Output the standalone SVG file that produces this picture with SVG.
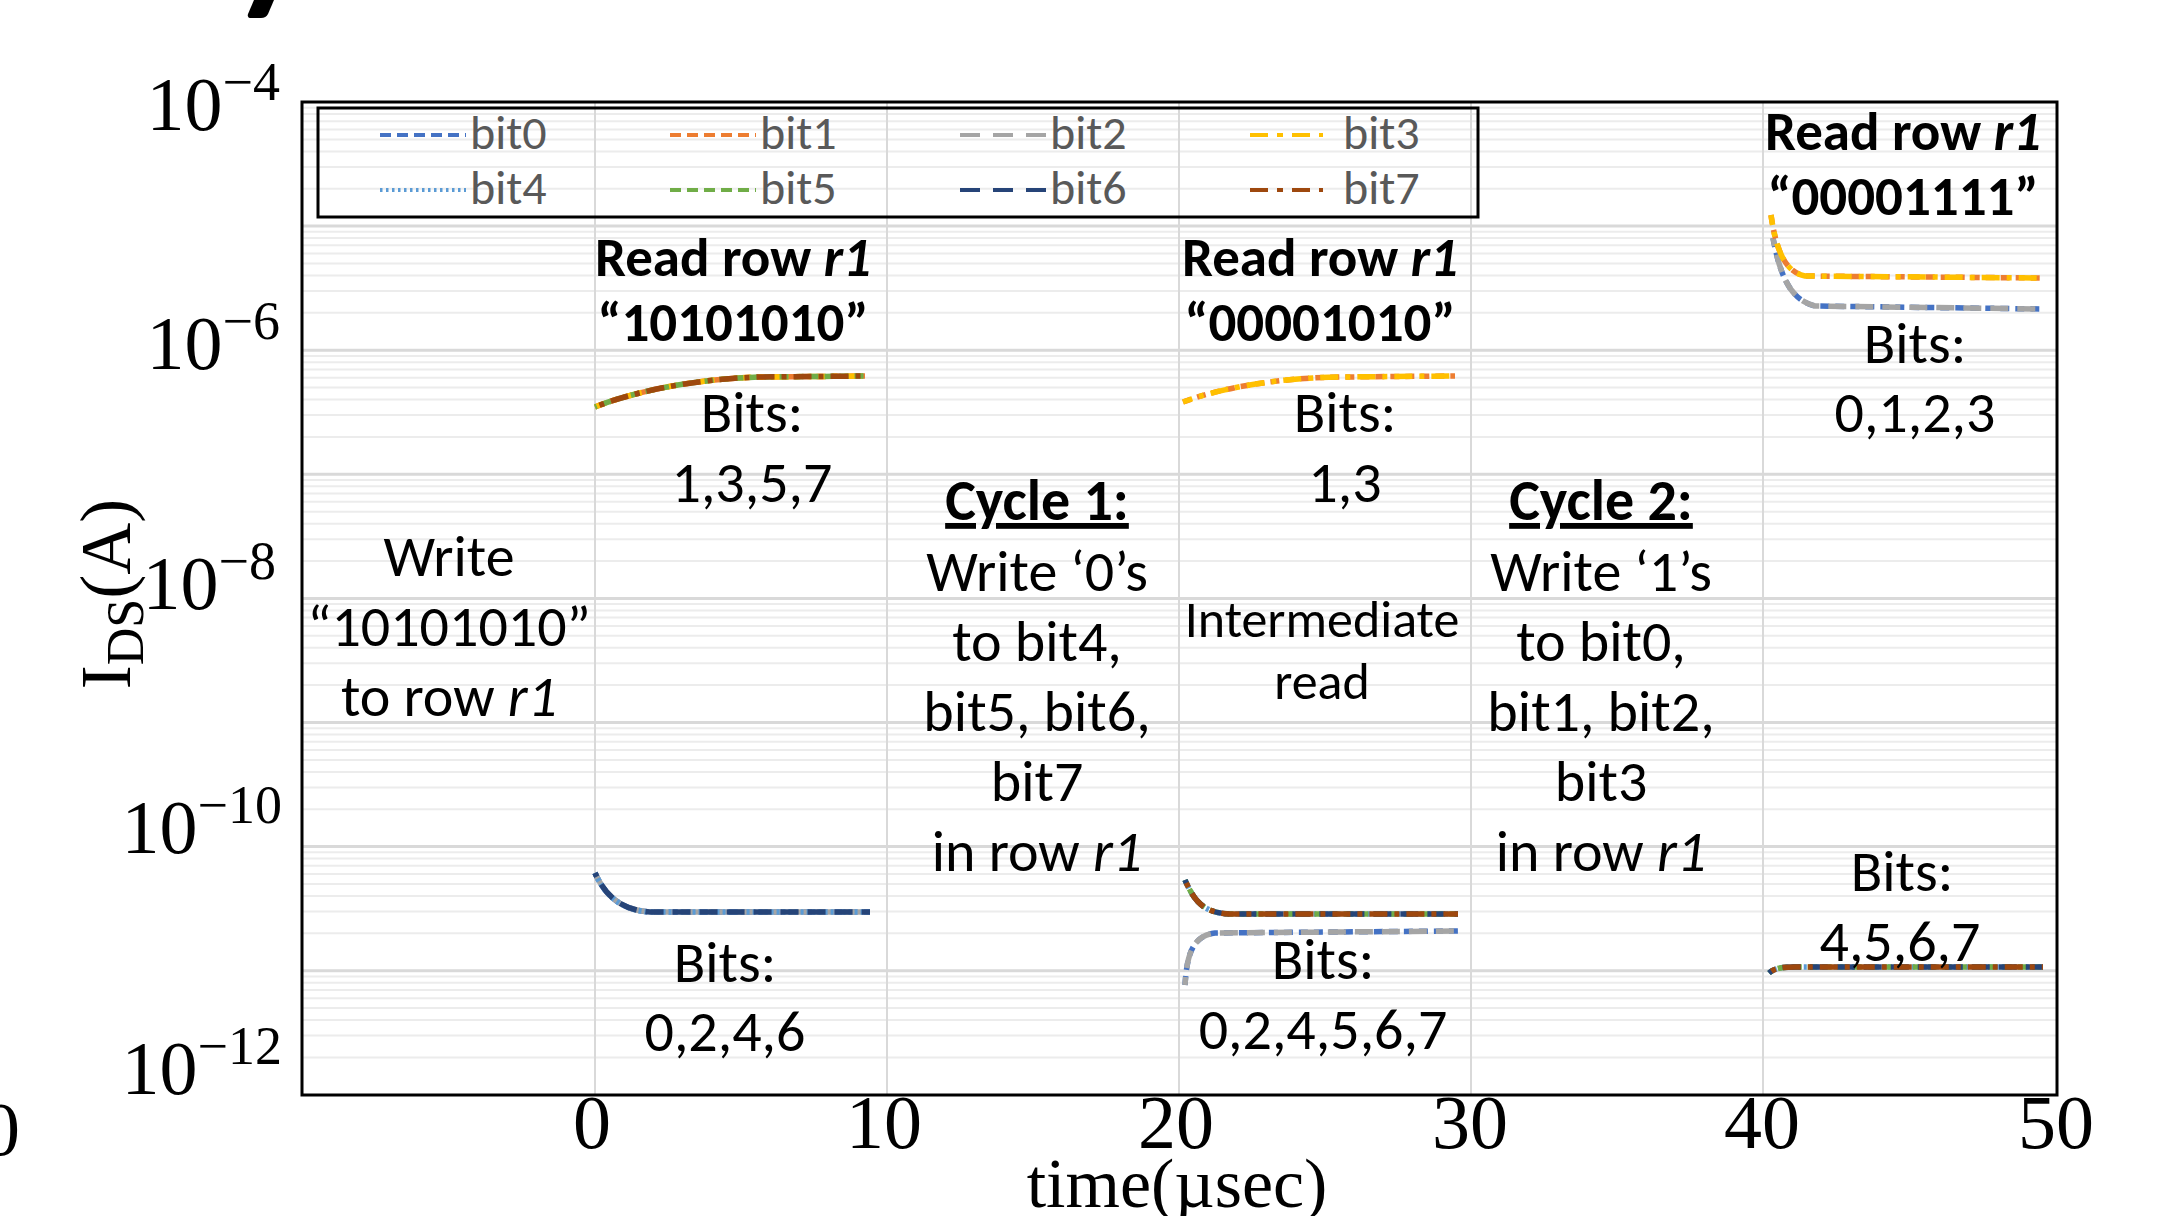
<svg xmlns="http://www.w3.org/2000/svg" width="2160" height="1216" viewBox="0 0 2160 1216">
  <style>
    .ann { font-family: Carlito, Calibri, Lato, "Open Sans", sans-serif; font-size: 58px; fill: #000; text-anchor: middle; }
    .b { font-weight: bold; font-size: 55px; }
    .cyc { font-weight: bold; font-size: 58px; }
    .small { font-size: 52px; }
    .it { font-style: italic; }
    .leg { font-family: Carlito, Calibri, Lato, sans-serif; font-size: 48px; fill: #595959; }
    .tick { font-family: "Liberation Serif", "Times New Roman", serif; font-size: 76px; fill: #000; }
    .exp { font-size: 54px; }
    .ylab { font-size: 72px; }
    .sub { font-size: 52px; }
    .xlab { font-size: 70px; }
    .major { stroke: #d9d9d9; stroke-width: 3; }
    .minor { stroke: #ececec; stroke-width: 2; }
    .vgrid { stroke: #d9d9d9; stroke-width: 2; }
    .s { fill: none; stroke-width: 5.5; }
    .l { fill: none; stroke-width: 4; }
    .c0 { stroke: #4472C4; }
    .c1 { stroke: #ED7D31; }
    .c2 { stroke: #A5A5A5; }
    .c3 { stroke: #FFC000; }
    .c4 { stroke: #5B9BD5; }
    .c5 { stroke: #70AD47; }
    .c6 { stroke: #264478; }
    .c7 { stroke: #9E480E; }
    .sq { stroke-dasharray: 9 6; }
    .dsh { stroke-dasharray: 18 9; }
    .dd { stroke-dasharray: 18 7 5 7; }
    .dot { stroke-dasharray: 3 3; }
  </style>
  <defs>
    <!-- minor log gridlines of one decade, offsets from the upper major line -->
    <g id="decade">
      <line class="minor" x1="302" x2="2057" y1="5.7" y2="5.7"/>
      <line class="minor" x1="302" x2="2057" y1="12" y2="12"/>
      <line class="minor" x1="302" x2="2057" y1="19.2" y2="19.2"/>
      <line class="minor" x1="302" x2="2057" y1="27.5" y2="27.5"/>
      <line class="minor" x1="302" x2="2057" y1="37.4" y2="37.4"/>
      <line class="minor" x1="302" x2="2057" y1="49.4" y2="49.4"/>
      <line class="minor" x1="302" x2="2057" y1="64.9" y2="64.9"/>
      <line class="minor" x1="302" x2="2057" y1="86.7" y2="86.7"/>
    </g>
  </defs>

  <rect width="2160" height="1216" fill="#fff"/>

  <!-- mark at the top edge -->
  <path d="M254,0 L274,0 L268,14 Q266,18 261,18 L251,18 Q247,18 248,14 Z" fill="#000"/>

  <!-- grid -->
  <g id="grid">
    <use href="#decade" y="102"/>
    <use href="#decade" y="226.1"/>
    <use href="#decade" y="350.2"/>
    <use href="#decade" y="474.3"/>
    <use href="#decade" y="598.4"/>
    <use href="#decade" y="722.5"/>
    <use href="#decade" y="846.6"/>
    <use href="#decade" y="970.7"/>
    <line class="major" x1="302" x2="2057" y1="226.1" y2="226.1"/>
    <line class="major" x1="302" x2="2057" y1="350.2" y2="350.2"/>
    <line class="major" x1="302" x2="2057" y1="474.3" y2="474.3"/>
    <line class="major" x1="302" x2="2057" y1="598.4" y2="598.4"/>
    <line class="major" x1="302" x2="2057" y1="722.5" y2="722.5"/>
    <line class="major" x1="302" x2="2057" y1="846.6" y2="846.6"/>
    <line class="major" x1="302" x2="2057" y1="970.7" y2="970.7"/>
    <line class="vgrid" x1="595" x2="595" y1="102" y2="1095"/>
    <line class="vgrid" x1="887" x2="887" y1="102" y2="1095"/>
    <line class="vgrid" x1="1179" x2="1179" y1="102" y2="1095"/>
    <line class="vgrid" x1="1471" x2="1471" y1="102" y2="1095"/>
    <line class="vgrid" x1="1763" x2="1763" y1="102" y2="1095"/>
  </g>

  <!-- measured drain currents, one path per bit and read window -->
  <g id="series">
    <!-- read 1: bits 0,2,4,6 low; 1,3,5,7 high -->
    <path class="s c0 sq" d="M595,873 C605,895 620,910 650,912 L870,912"/>
    <path class="s c2 dsh" stroke-dashoffset="5" d="M595,873 C605,895 620,910 650,912 L870,912"/>
    <path class="s c4 dot" d="M595,873 C605,895 620,910 650,912 L870,912"/>
    <path class="s c6 dsh" stroke-dashoffset="14" d="M595,873 C605,895 620,910 650,912 L870,912"/>
    <path class="s c1 sq" d="M595,407 C630,393 690,379 760,377 L865,376"/>
    <path class="s c3 dd" stroke-dashoffset="6" d="M595,407 C630,393 690,379 760,377 L865,376"/>
    <path class="s c5 sq" stroke-dashoffset="7" d="M595,407 C630,393 690,379 760,377 L865,376"/>
    <path class="s c7 dd" stroke-dashoffset="20" d="M595,407 C630,393 690,379 760,377 L865,376"/>

    <!-- read 2: bits 1,3 high; 4..7 and 0,2 low -->
    <path class="s c1 sq" d="M1183,402 C1215,390 1270,378 1340,377 L1455,376"/>
    <path class="s c3 dd" stroke-dashoffset="8" d="M1183,402 C1215,390 1270,378 1340,377 L1455,376"/>
    <path class="s c0 sq" d="M1185,985 C1187,955 1192,936 1215,933 L1458,931"/>
    <path class="s c2 dsh" stroke-dashoffset="10" d="M1185,985 C1187,955 1192,936 1215,933 L1458,931"/>
    <path class="s c4 dot" d="M1185,880 C1195,903 1205,913 1230,914 L1458,914"/>
    <path class="s c5 sq" stroke-dashoffset="5" d="M1185,880 C1195,903 1205,913 1230,914 L1458,914"/>
    <path class="s c6 dsh" stroke-dashoffset="12" d="M1185,880 C1195,903 1205,913 1230,914 L1458,914"/>
    <path class="s c7 dd" stroke-dashoffset="22" d="M1185,880 C1195,903 1205,913 1230,914 L1458,914"/>

    <!-- read 3: bits 0..3 high; 4..7 low -->
    <path class="s c0 sq" d="M1773,238 C1780,275 1790,300 1815,306 L2042,309"/>
    <path class="s c2 dsh" stroke-dashoffset="10" d="M1773,238 C1780,275 1790,300 1815,306 L2042,309"/>
    <path class="s c1 sq" d="M1771,215 C1776,250 1785,272 1805,276 L2042,278"/>
    <path class="s c3 dd" stroke-dashoffset="8" d="M1771,215 C1776,250 1785,272 1805,276 L2042,278"/>
    <path class="s c4 dot" d="M1769,973 C1775,968 1782,967 1795,967 L2043,967"/>
    <path class="s c5 sq" stroke-dashoffset="5" d="M1769,973 C1775,968 1782,967 1795,967 L2043,967"/>
    <path class="s c6 dsh" stroke-dashoffset="12" d="M1769,973 C1775,968 1782,967 1795,967 L2043,967"/>
    <path class="s c7 dd" stroke-dashoffset="22" d="M1769,973 C1775,968 1782,967 1795,967 L2043,967"/>
  </g>

  <!-- plot frame -->
  <rect x="302" y="102" width="1755" height="993" fill="none" stroke="#000" stroke-width="3"/>

  <!-- legend -->
  <g id="legend">
    <rect x="318" y="108" width="1160" height="109" fill="none" stroke="#000" stroke-width="3"/>
    <line class="l c0" x1="380" x2="466" y1="135" y2="135" stroke-dasharray="11 6"/>
    <text class="leg" x="470" y="149">bit0</text>
    <line class="l c1" x1="670" x2="756" y1="135" y2="135" stroke-dasharray="11 6"/>
    <text class="leg" x="760" y="149">bit1</text>
    <line class="l c2" x1="960" x2="1047" y1="135" y2="135" stroke-dasharray="20 13"/>
    <text class="leg" x="1050" y="149">bit2</text>
    <line class="l c3" x1="1250" x2="1323" y1="135" y2="135" stroke-dasharray="18 9 6 9"/>
    <text class="leg" x="1343" y="149">bit3</text>
    <line class="l c4" x1="380" x2="466" y1="190" y2="190" stroke-dasharray="2.5 3.5"/>
    <text class="leg" x="470" y="204">bit4</text>
    <line class="l c5" x1="670" x2="756" y1="190" y2="190" stroke-dasharray="11 6"/>
    <text class="leg" x="760" y="204">bit5</text>
    <line class="l c6" x1="960" x2="1047" y1="190" y2="190" stroke-dasharray="20 13"/>
    <text class="leg" x="1050" y="204">bit6</text>
    <line class="l c7" x1="1250" x2="1323" y1="190" y2="190" stroke-dasharray="18 9 6 9"/>
    <text class="leg" x="1343" y="204">bit7</text>
  </g>

  <!-- axes labels -->
  <g id="y-axis">
    <text class="tick" x="280" y="130" text-anchor="end">10<tspan class="exp" dy="-30">−4</tspan></text>
    <text class="tick" x="280" y="369" text-anchor="end">10<tspan class="exp" dy="-30">−6</tspan></text>
    <text class="tick" x="276" y="609" text-anchor="end">10<tspan class="exp" dy="-30">−8</tspan></text>
    <text class="tick" x="282" y="853" text-anchor="end">10<tspan class="exp" dy="-30">−10</tspan></text>
    <text class="tick" x="282" y="1094" text-anchor="end">10<tspan class="exp" dy="-30">−12</tspan></text>
    <text class="tick ylab" transform="translate(130,594) rotate(-90)" text-anchor="middle">I<tspan class="sub" dy="13">DS</tspan><tspan dy="-13">(A)</tspan></text>
  </g>
  <g id="x-axis">
    <text class="tick" x="-18" y="1155">0</text>
    <text class="tick" x="592" y="1148" text-anchor="middle">0</text>
    <text class="tick" x="884" y="1148" text-anchor="middle">10</text>
    <text class="tick" x="1176" y="1148" text-anchor="middle">20</text>
    <text class="tick" x="1470" y="1148" text-anchor="middle">30</text>
    <text class="tick" x="1762" y="1148" text-anchor="middle">40</text>
    <text class="tick" x="2056" y="1148" text-anchor="middle">50</text>
    <text class="tick xlab" x="1177" y="1207" text-anchor="middle">time(µsec)</text>
  </g>

  <!-- annotations -->
  <g id="write-init">
    <text class="ann" x="449" y="576">Write</text>
    <text class="ann" x="449" y="646">“10101010”</text>
    <text class="ann" x="449" y="716">to row <tspan class="it">r1</tspan></text>
  </g>
  <g id="read-1">
    <text class="ann b" x="733" y="276">Read row <tspan class="it">r1</tspan></text>
    <text class="ann b" x="733" y="341">“10101010”</text>
    <text class="ann" x="752" y="432">Bits:</text>
    <text class="ann" x="752" y="502">1,3,5,7</text>
    <text class="ann" x="725" y="982">Bits:</text>
    <text class="ann" x="725" y="1051">0,2,4,6</text>
  </g>
  <g id="cycle-1">
    <text class="ann cyc" x="1037" y="520" text-decoration="underline">Cycle 1:</text>
    <text class="ann" x="1037" y="591">Write ‘0’s</text>
    <text class="ann" x="1037" y="661">to bit4,</text>
    <text class="ann" x="1037" y="731">bit5, bit6,</text>
    <text class="ann" x="1037" y="801">bit7</text>
    <text class="ann" x="1037" y="871">in row <tspan class="it">r1</tspan></text>
  </g>
  <g id="read-2">
    <text class="ann b" x="1320" y="276">Read row <tspan class="it">r1</tspan></text>
    <text class="ann b" x="1320" y="341">“00001010”</text>
    <text class="ann" x="1345" y="432">Bits:</text>
    <text class="ann" x="1345" y="502">1,3</text>
    <text class="ann small" x="1322" y="637">Intermediate</text>
    <text class="ann small" x="1322" y="699">read</text>
    <text class="ann" x="1323" y="979">Bits:</text>
    <text class="ann" x="1323" y="1049">0,2,4,5,6,7</text>
  </g>
  <g id="cycle-2">
    <text class="ann cyc" x="1601" y="520" text-decoration="underline">Cycle 2:</text>
    <text class="ann" x="1601" y="591">Write ‘1’s</text>
    <text class="ann" x="1601" y="661">to bit0,</text>
    <text class="ann" x="1601" y="731">bit1, bit2,</text>
    <text class="ann" x="1601" y="801">bit3</text>
    <text class="ann" x="1601" y="871">in row <tspan class="it">r1</tspan></text>
  </g>
  <g id="read-3">
    <text class="ann b" x="1903" y="150">Read row <tspan class="it">r1</tspan></text>
    <text class="ann b" x="1903" y="215">“00001111”</text>
    <text class="ann" x="1915" y="363">Bits:</text>
    <text class="ann" x="1915" y="432">0,1,2,3</text>
    <text class="ann" x="1902" y="891">Bits:</text>
    <text class="ann" x="1900" y="961">4,5,6,7</text>
  </g>
</svg>
